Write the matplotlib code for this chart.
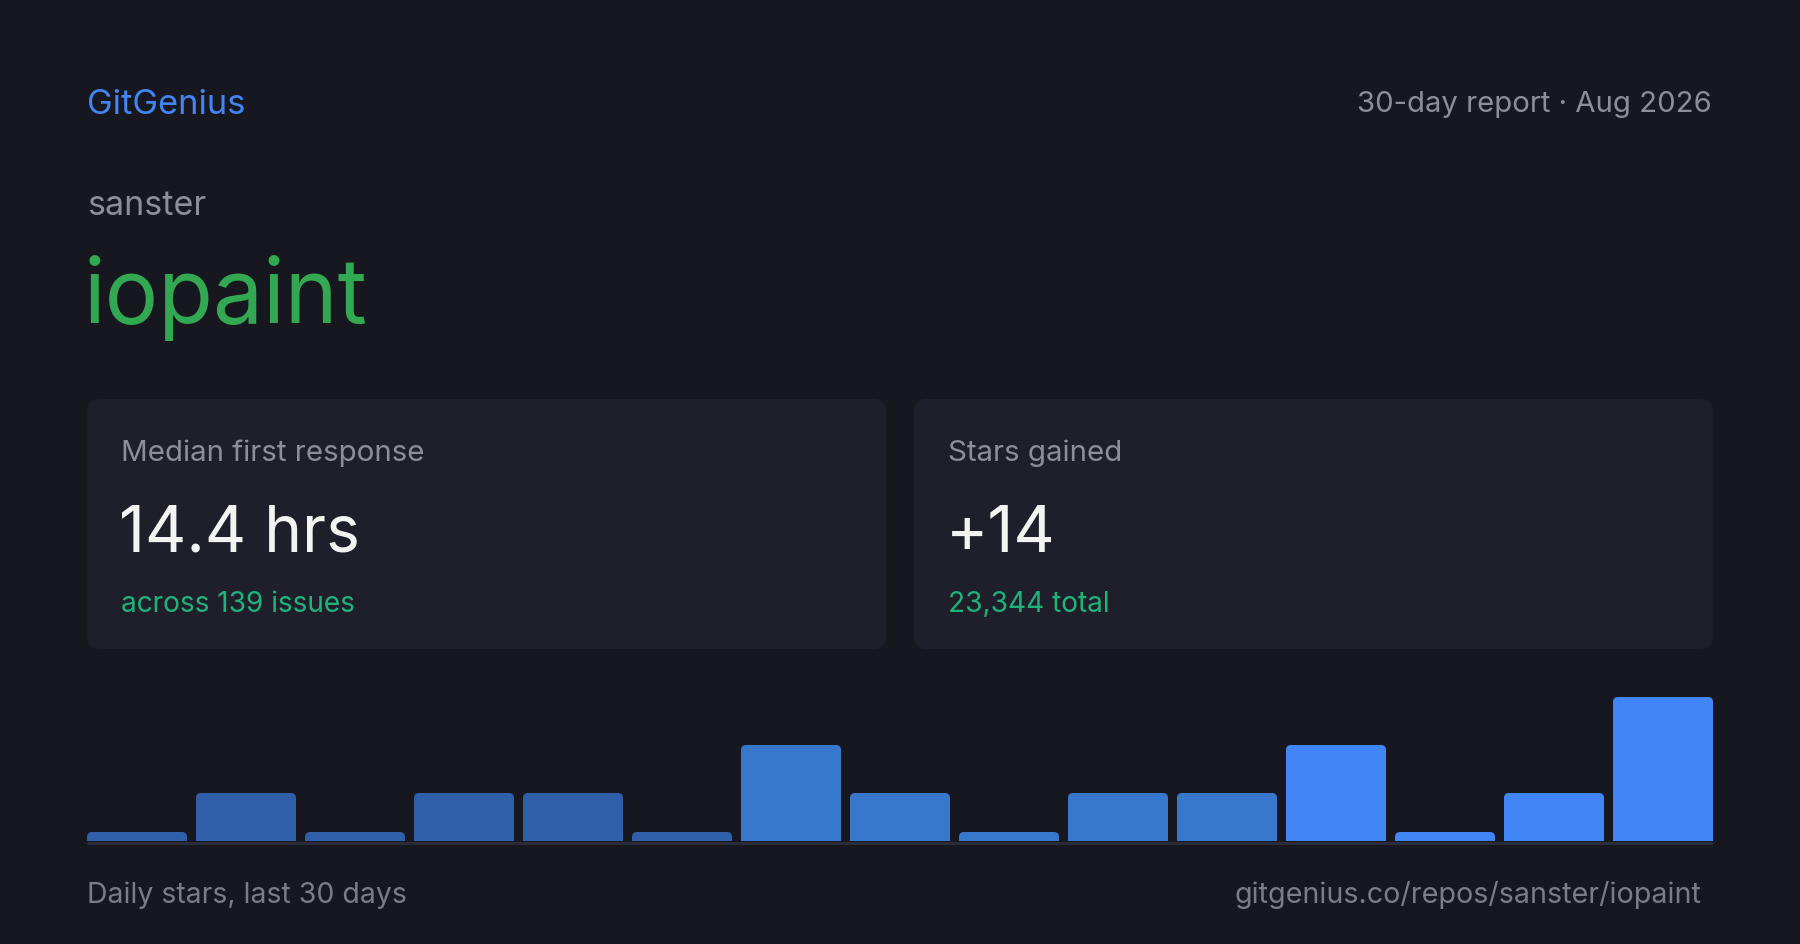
import matplotlib
matplotlib.use("Agg")
import matplotlib.pyplot as plt
from matplotlib.patches import FancyBboxPatch

# data
owner = "sanster"
repo = "iopaint"
brand = "GitGenius"
report_label = "30-day report · Aug 2026"
card_titles = ["Median first response", "Stars gained"]
card_values = ["14.4 hrs", "+14"]
card_notes = ["across 139 issues", "23,344 total"]
daily_stars = [0, 1, 0, 1, 1, 0, 2, 1, 0, 1, 1, 2, 0, 1, 3]
bar_colors = ["#2f5fa8"] * 6 + ["#3778cc"] * 5 + ["#4285f4"] * 4
footer_left = "Daily stars, last 30 days"
footer_right = "gitgenius.co/repos/sanster/iopaint"

W, H = 1800, 945
BG = "#16171f"
CARD = "#1f1f2b"
GRAY = "#8e8e99"
FOOT = "#7c7c87"
WHITE = "#f3f3f1"
GREEN = "#33a852"
TEAL = "#1fb37b"
BLUE = "#4285f4"

plt.rcParams["font.family"] = ["Inter", "DejaVu Sans"]


def px(v):
    """pixel size -> points at dpi 100"""
    return v * 0.72


def draw_header(ax):
    ax.text(87, 114, brand, color=BLUE, fontsize=px(34.5), va="baseline")
    ax.text(1712, 112, report_label, color=GRAY, fontsize=px(29.3),
            va="baseline", ha="right")
    ax.text(87, 215, owner, color=GRAY, fontsize=px(34), va="baseline")
    ax.text(84, 323, repo, color=GREEN, fontsize=px(89.5), va="baseline")


def draw_cards(ax):
    lefts = [87, 914]
    for i, x0 in enumerate(lefts):
        card = FancyBboxPatch((x0, 400), 799, 250,
                              boxstyle="round,pad=0,rounding_size=12",
                              facecolor=CARD, edgecolor="none")
        ax.add_patch(card)
        tx = x0 + 34
        ax.text(tx, 461, card_titles[i], color=GRAY, fontsize=px(29.5), va="baseline")
        ax.text(tx - 2, 552, card_values[i], color=WHITE, fontsize=px(64), va="baseline")
        ax.text(tx, 612, card_notes[i], color=TEAL, fontsize=px(28), va="baseline")


def draw_bars(fig):
    left, right, bottom, top = 87, 1713, 842, 698
    n = len(daily_stars)
    width = 100 * (n - 1) / ((right - left) - 100)
    axb = fig.add_axes([left / W, (H - bottom) / H, (right - left) / W, (bottom - top) / H])
    axb.set_xlim(-width / 2, n - 1 + width / 2)
    ymax = max(daily_stars)
    axb.set_ylim(0, ymax)
    axb.axis("off")

    px_per_x = (right - left) / (n - 1 + width)
    px_per_y = (bottom - top) / ymax
    stub = 9 / px_per_y
    radius = 5 / px_per_x
    aspect = px_per_x / px_per_y

    shown = [max(v, stub) for v in daily_stars]
    bars = axb.bar(range(n), shown, width=width, color=bar_colors)
    for rect, c in zip(bars, bar_colors):
        rect.set_visible(False)
        ry = radius * aspect
        patch = FancyBboxPatch((rect.get_x(), -ry), rect.get_width(), rect.get_height() + ry,
                               boxstyle=f"round,pad=0,rounding_size={radius}",
                               mutation_aspect=aspect,
                               facecolor=c, edgecolor="none")
        axb.add_patch(patch)
    return axb


def main():
    fig = plt.figure(figsize=(W / 100, H / 100), dpi=100, facecolor=BG)
    ax = fig.add_axes([0, 0, 1, 1])
    ax.set_xlim(0, W)
    ax.set_ylim(H, 0)
    ax.axis("off")
    ax.set_facecolor(BG)

    draw_header(ax)
    draw_cards(ax)
    draw_bars(fig)

    # baseline under the bars
    ax.plot([87, 1713], [843.5, 843.5], color="#2b2c3a", linewidth=px(3),
            solid_capstyle="butt")

    ax.text(87, 903, footer_left, color=FOOT, fontsize=px(28.4), va="baseline")
    ax.text(1701, 903, footer_right, color=FOOT, fontsize=px(28.7), va="baseline", ha="right")

    fig.savefig("out.png", dpi=100, facecolor=BG)
    plt.close(fig)


if __name__ == "__main__":
    main()
